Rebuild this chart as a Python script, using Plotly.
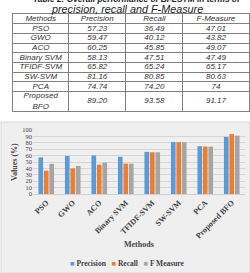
import plotly.graph_objects as go

methods = ["PSO", "GWO", "ACO", "Binary SVM", "TFIDF-SVM", "SW-SVM", "PCA", "Proposed BFO"]
table_methods = ["PSO", "GWO", "ACO", "Binary SVM", "TFIDF-SVM", "SW-SVM", "PCA", "Proposed<br>BFO"]
precision = [57.23, 59.47, 60.25, 58.13, 65.82, 81.16, 74.74, 89.20]
recall = [36.49, 40.12, 45.85, 47.51, 65.24, 80.85, 74.20, 93.58]
fmeasure = [47.01, 43.82, 49.07, 47.49, 65.17, 80.83, 74, 91.17]
precision_txt = ["57.23", "59.47", "60.25", "58.13", "65.82", "81.16", "74.74", "89.20"]
recall_txt = ["36.49", "40.12", "45.85", "47.51", "65.24", "80.85", "74.20", "93.58"]
fmeasure_txt = ["47.01", "43.82", "49.07", "47.49", "65.17", "80.63", "74", "91.17"]
headers = ["Methods", "Precision", "Recall", "F-Measure"]
series_names = ["Precision", "Recall", "F Measure"]
y_ticks = list(range(0, 101, 10))

W, H = 250, 273
def py(px):
    return 1 - px / H

serif = "Liberation Serif"
sans = "Liberation Sans"
colors = ["#5b9bd5", "#ed7d31", "#a5a5a5"]

fig = go.Figure()

# ---- table drawn on its own axes ----
col_widths = [56, 57, 57, 66]
bounds = [0]
for w in col_widths:
    bounds.append(bounds[-1] + w)
col_centers = [(bounds[i] + bounds[i + 1]) / 2 for i in range(4)]
row_spans = [1] * 8 + [2]  # header + 7 rows + 2-line row
row_bounds = [0]
for s in row_spans:
    row_bounds.append(row_bounds[-1] + s)
row_centers = [(row_bounds[i] + row_bounds[i + 1]) / 2 for i in range(len(row_spans))]

columns = [[headers[0]] + table_methods, [headers[1]] + precision_txt,
           [headers[2]] + recall_txt, [headers[3]] + fmeasure_txt]
tx, ty, tt = [], [], []
for j, col in enumerate(columns):
    for i, s in enumerate(col):
        tx.append(col_centers[j])
        ty.append(row_centers[i])
        tt.append("<i>%s</i>" % s)
fig.add_trace(go.Scatter(x=tx, y=ty, text=tt, mode="text", textposition="middle center",
                         textfont=dict(family=sans, size=8, color="#333333"),
                         xaxis="x2", yaxis="y2", hoverinfo="skip", showlegend=False))

# ---- bars ----
for name, vals, c in zip(series_names, [precision, recall, fmeasure], colors):
    fig.add_trace(go.Bar(x=methods, y=vals, name=name, marker=dict(color=c, line=dict(width=0)),
                         showlegend=False))

legend_html = "&nbsp;&nbsp;&nbsp;".join(
    '<span style="color:%s">■</span> <b>%s</b>' % (c, n) for n, c in zip(series_names, colors))

fig.update_layout(
    width=W, height=H, autosize=False,
    margin=dict(l=0, r=0, t=0, b=0),
    paper_bgcolor="white", plot_bgcolor="rgba(0,0,0,0)",
    barmode="group", bargap=0.38, bargroupgap=0.15,
    xaxis=dict(domain=[33 / W, 245 / W], tickangle=-45, showgrid=False,
               tickfont=dict(family=serif, size=8, color="#444444", weight="bold"),
               showline=True, linecolor="#d0d0d0", ticks="", automargin=False),
    yaxis=dict(domain=[py(194), py(130)], range=[0, 100], tickvals=y_ticks,
               gridcolor="#d6d6d6", gridwidth=1, zeroline=False, showline=False,
               tickfont=dict(family=serif, size=6.5, color="#444444"),
               ticks="", automargin=False),
    xaxis2=dict(domain=[12.7 / W, 249 / W], range=[0, bounds[-1]], anchor="y2",
                tickvals=bounds[1:-1], showticklabels=False, ticks="", showgrid=True,
                gridcolor="#808080", gridwidth=1, zeroline=False,
                showline=True, mirror=True, linecolor="#808080", linewidth=1, fixedrange=True),
    yaxis2=dict(domain=[py(111), py(14.3)], range=[row_bounds[-1], 0], anchor="x2",
                tickvals=row_bounds[1:-1], showticklabels=False, ticks="", showgrid=True,
                gridcolor="#808080", gridwidth=1, zeroline=False,
                showline=True, mirror=True, linecolor="#808080", linewidth=1, fixedrange=True),
    showlegend=False,
    shapes=[dict(type="rect", xref="paper", yref="paper", x0=0.004, x1=1, y0=0, y1=py(122),
                 fillcolor="#efefef", line=dict(color="#d8d8d8", width=1), layer="below")],
    annotations=[
        dict(text="<b><i>Table 2: Overall performance of BI-LSTM in terms of</i></b>", xref="paper", yref="paper",
             x=137 / W, y=py(-1.2), xanchor="center", yanchor="middle", showarrow=False,
             font=dict(family=sans, size=8.4, color="#222222")),
        dict(text="<i>precision, recall and F-Measure</i>", xref="paper", yref="paper",
             x=127 / W, y=py(9.5), xanchor="center", yanchor="middle", showarrow=False,
             font=dict(family=sans, size=10.8, color="#222222")),
        dict(text="<b>Values (%)</b>", xref="paper", yref="paper", textangle=-90,
             x=14 / W, y=py(162), xanchor="center", yanchor="middle", showarrow=False,
             font=dict(family=serif, size=8, color="#444444")),
        dict(text="<b>Methods</b>", xref="paper", yref="paper",
             x=139 / W, y=py(244), xanchor="center", yanchor="middle", showarrow=False,
             font=dict(family=serif, size=8, color="#444444")),
        dict(text=legend_html, xref="paper", yref="paper",
             x=127 / W, y=py(263), xanchor="center", yanchor="middle", showarrow=False,
             font=dict(family=serif, size=7.5, color="#444444")),
    ],
)

fig.write_html("out.html")
